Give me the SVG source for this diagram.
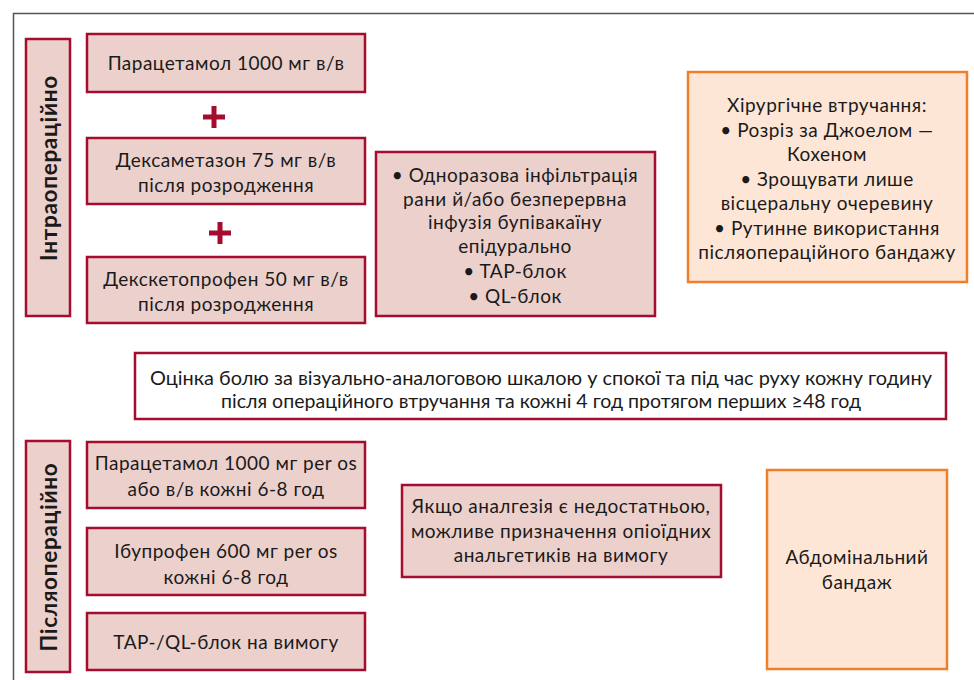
<svg xmlns="http://www.w3.org/2000/svg" width="974" height="680" viewBox="0 0 974 680">
<style>
.pk{fill:#ecd0cc;stroke:#a50d2f;stroke-width:2.5}
.or{fill:#fde6d6;stroke:#f07f2a;stroke-width:2.5}
.wh{fill:#ffffff;stroke:#a50d2f;stroke-width:2.5}
text{font-family:"Lato","Liberation Sans",sans-serif;font-size:19px;letter-spacing:0.5px;fill:#1a1a1a;text-anchor:middle}
.vl{font-weight:bold;font-size:22.5px;letter-spacing:0.7px}
.as{letter-spacing:0}
.plus{stroke:#a50d2f;stroke-width:5}
</style>
<rect width="974" height="680" fill="#ffffff"/>
<path d="M13.5 680 V13.5 H974" fill="none" stroke="#555" stroke-width="1.5"/>
<g id="intra-label"><rect class="pk" x="26" y="39" width="44" height="277"/><text class="vl" transform="translate(56.5 168) rotate(-90)">Інтраопераційно</text></g>
<g id="paracetamol-iv"><rect class="pk" x="87" y="34" width="278" height="58"/><text x="226" y="70">Парацетамол 1000 мг в/в</text></g>
<g id="dexamethasone"><rect class="pk" x="87" y="138" width="278" height="66"/><text x="226" y="167">Дексаметазон 75 мг в/в</text><text x="226" y="192">після розродження</text></g>
<g id="dexketoprofen"><rect class="pk" x="87" y="257" width="278" height="66"/><text x="226" y="286">Декскетопрофен 50 мг в/в</text><text x="226" y="311">після розродження</text></g>
<g id="regional"><rect class="pk" x="376" y="152" width="279" height="164"/>
<text x="515" y="182">• Одноразова інфільтрація</text><text x="515" y="206">рани й/або безперервна</text><text x="515" y="229">інфузія бупівакаїну</text><text x="515" y="253">епідурально</text><text x="515" y="278">• TAP-блок</text><text x="515" y="303">• QL-блок</text></g>
<g id="surgical"><rect class="or" x="688" y="72" width="279" height="210"/>
<text x="827" y="112">Хірургічне втручання:</text><text x="827" y="137">• Розріз за Джоелом —</text><text x="827" y="161">Кохеном</text><text x="827" y="186">• Зрощувати лише</text><text x="827" y="210">вісцеральну очеревину</text><text x="827" y="235">• Рутинне використання</text><text x="827" y="259">післяопераційного бандажу</text></g>
<g id="pain-assessment"><rect class="wh" x="135" y="353" width="811" height="66"/>
<text class="as" x="541" y="385" textLength="782" lengthAdjust="spacingAndGlyphs">Оцінка болю за візуально-аналоговою шкалою у спокої та під час руху кожну годину</text>
<text class="as" x="541" y="408" textLength="640" lengthAdjust="spacingAndGlyphs">після операційного втручання та кожні 4 год протягом перших ≥48 год</text></g>
<g id="post-label"><rect class="pk" x="26" y="441" width="44" height="231"/><text class="vl" transform="translate(56.5 557) rotate(-90)">Післяопераційно</text></g>
<g id="paracetamol-post"><rect class="pk" x="87" y="442" width="278" height="66"/><text x="226" y="470">Парацетамол 1000 мг per os</text><text x="226" y="496">або в/в кожні 6-8 год</text></g>
<g id="ibuprofen"><rect class="pk" x="87" y="528" width="278" height="67"/><text x="226" y="558">Ібупрофен 600 мг per os</text><text x="226" y="584">кожні 6-8 год</text></g>
<g id="tap-ql"><rect class="pk" x="87" y="613" width="278" height="57"/><text x="226" y="649">TAP-/QL-блок на вимогу</text></g>
<g id="opioids"><rect class="pk" x="402" y="485" width="319" height="92"/><text x="561" y="513">Якщо аналгезія є недостатньою,</text><text x="561" y="538">можливе призначення опіоїдних</text><text x="561" y="562">анальгетиків на вимогу</text></g>
<g id="abdominal-bandage"><rect class="or" x="767" y="470" width="180" height="199"/><text x="857" y="564">Абдомінальний</text><text x="857" y="589">бандаж</text></g>
<g id="connectors">
<path class="plus" d="M203 117 H225 M214 106 V128"/>
<path class="plus" d="M209 233 H231 M220 222 V244"/>
</g>
</svg>
